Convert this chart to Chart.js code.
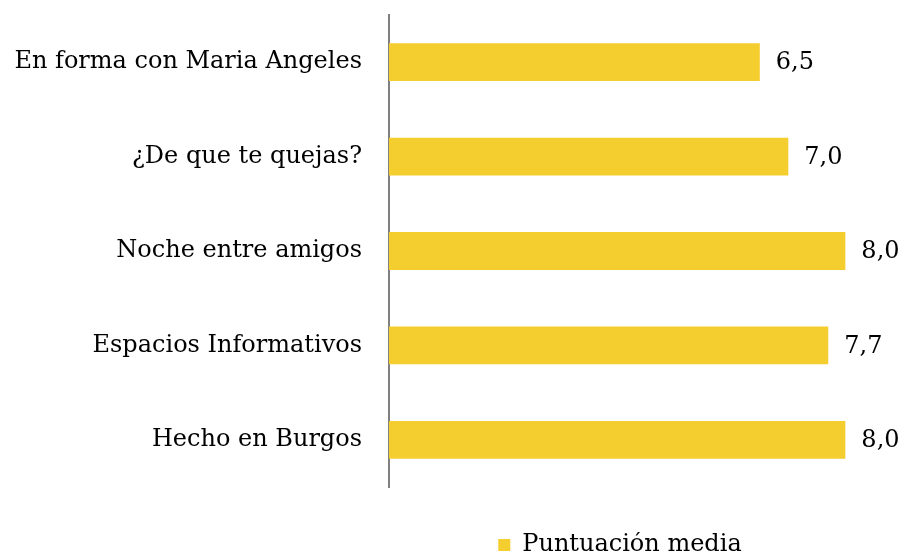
<!DOCTYPE html>
<html>
<head>
<meta charset="utf-8">
<script src="https://cdn.jsdelivr.net/npm/chart.js@4.4.1/dist/chart.umd.min.js"></script>
<style>
  html, body { margin: 0; padding: 0; background: #fff; }
  #wrap { width: 899px; height: 557px; }
</style>
</head>
<body>
<div id="wrap"><canvas id="chart"></canvas></div>
<script>
/* ── Chart data ── */
var programas = ['En forma con Maria Angeles', '¿De que te quejas?', 'Noche entre amigos', 'Espacios Informativos', 'Hecho en Burgos'];
var puntuacion = [6.5, 7.0, 8.0, 7.7, 8.0];
var serieNombre = 'Puntuación media';

var FONT = '"DejaVu Serif", serif';
var AMARILLO = '#F4CD2F';

// value labels drawn just past the end of each bar, decimal comma
var etiquetasValor = {
    id: 'etiquetasValor',
    afterDatasetsDraw: function (chart) {
        var ctx = chart.ctx;
        var meta = chart.getDatasetMeta(0);
        ctx.save();
        ctx.font = '24px ' + FONT;
        ctx.fillStyle = '#000';
        ctx.textAlign = 'left';
        ctx.textBaseline = 'middle';
        meta.data.forEach(function (bar, i) {
            var txt = puntuacion[i].toFixed(1).replace('.', ',');
            ctx.fillText(txt, bar.x + 16, bar.y + 1);
        });
        ctx.restore();
    }
};

// nudge the legend left of the plot centre and down, like the original
var leyendaDesplazada = {
    id: 'leyendaDesplazada',
    afterLayout: function (chart) {
        if (!chart.legend) return;
        chart.legend.left -= 20;
        chart.legend.right -= 20;
        chart.legend.top += 10;
        chart.legend.bottom += 10;
    }
};

new Chart(document.getElementById('chart'), {
    type: 'bar',
    data: {
        labels: programas,
        datasets: [{
            label: serieNombre,
            data: puntuacion,
            backgroundColor: AMARILLO,
            borderWidth: 0,
            categoryPercentage: 1,
            barPercentage: 0.4
        }]
    },
    options: {
        indexAxis: 'y',
        responsive: true,
        maintainAspectRatio: false,
        animation: false,
        layout: { padding: { top: 15, right: 8, bottom: 0, left: 0 } },
        scales: {
            x: {
                min: 0,
                max: 8.8,
                ticks: { display: false },
                grid: { display: false },
                border: { display: false },
                afterFit: function (s) {
                    s.height = 35;
                    s.paddingLeft = s.paddingRight = 0;
                }
            },
            y: {
                grid: { display: false },
                border: { display: true, color: '#808080', width: 2 },
                ticks: {
                    color: '#000',
                    padding: 19,
                    font: { family: FONT, size: 24 }
                },
                afterFit: function (s) {
                    s.width = 389;
                    s.paddingTop = s.paddingBottom = 0;
                }
            }
        },
        plugins: {
            legend: {
                position: 'bottom',
                fullSize: false,
                labels: {
                    color: '#000',
                    boxWidth: 12,
                    boxHeight: 12,
                    padding: 1,
                    font: { family: FONT, size: 24 }
                }
            },
            tooltip: { enabled: false }
        }
    },
    plugins: [etiquetasValor, leyendaDesplazada]
});
</script>
</body>
</html>
